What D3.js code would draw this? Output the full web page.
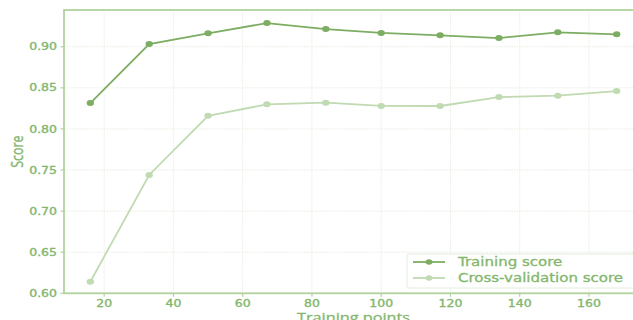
<!DOCTYPE html>
<html>
<head>
<meta charset="utf-8">
<script src="https://cdn.jsdelivr.net/npm/d3@7"></script>
<style>
  html, body { margin: 0; padding: 0; background: #ffffff; }
  svg { display: block; }
</style>
</head>
<body>
<svg id="chart" width="633" height="320"></svg>
<script>
const trainSizes = [16, 33, 50, 67, 84, 100, 117, 134, 151, 168];
const trainingScore = [0.8315, 0.9033, 0.9163, 0.9288, 0.9215, 0.9168, 0.9139, 0.9106, 0.9175, 0.9151];
const cvScore = [0.6141, 0.7440, 0.8160, 0.8299, 0.8319, 0.8280, 0.8279, 0.8388, 0.8404, 0.8461];
const xTicks = [20, 40, 60, 80, 100, 120, 140, 160];
const yTicks = [0.60, 0.65, 0.70, 0.75, 0.80, 0.85, 0.90];
const seriesNames = ["Training score", "Cross-validation score"];

const trainColor = "#7dad62";
const cvColor = "#c0dab2";
const spineColor = "#b0d39d";
const textColor = "#84b76d";
const gridColor = "#e8efe2";
const SX = 1.25;

const svg = d3.select("#chart");
const pLeft = 64, pRight = 643, pTop = 10, pBottom = 293.3;

const x = d3.scaleLinear().domain([8.4, 175.6]).range([pLeft, pRight]);
const y = d3.scaleLinear().domain([0.60, 0.9447]).range([pBottom, pTop]);

// grid
const g = svg.append("g");
g.selectAll("line.gx").data(xTicks).join("line")
  .attr("x1", d => x(d)).attr("x2", d => x(d))
  .attr("y1", pTop).attr("y2", pBottom)
  .attr("stroke", gridColor).attr("stroke-width", 1).attr("stroke-dasharray", "1.5,1");
g.selectAll("line.gy").data(yTicks).join("line")
  .attr("y1", d => y(d)).attr("y2", d => y(d))
  .attr("x1", pLeft).attr("x2", pRight)
  .attr("stroke", gridColor).attr("stroke-width", 1).attr("stroke-dasharray", "1.5,1");

// spines
svg.append("rect").attr("x", pLeft).attr("y", pTop)
  .attr("width", pRight - pLeft).attr("height", pBottom - pTop)
  .attr("fill", "none").attr("stroke", spineColor).attr("stroke-width", 1.8);

// ticks
svg.selectAll("line.tx").data(xTicks).join("line")
  .attr("x1", d => x(d)).attr("x2", d => x(d))
  .attr("y1", pBottom).attr("y2", pBottom + 3.5)
  .attr("stroke", spineColor).attr("stroke-width", 1.2);
svg.selectAll("line.ty").data(yTicks).join("line")
  .attr("y1", d => y(d)).attr("y2", d => y(d))
  .attr("x1", pLeft - 3.5).attr("x2", pLeft)
  .attr("stroke", spineColor).attr("stroke-width", 1.2);

// tick labels
svg.selectAll("text.xt").data(xTicks).join("text")
  .attr("transform", d => `translate(${x(d)},306.5) scale(${SX},1)`)
  .attr("text-anchor", "middle")
  .attr("font-family", "DejaVu Sans").attr("font-size", 10)
  .attr("fill", textColor).attr("stroke", textColor).attr("stroke-width", 0.35)
  .text(d => d);
svg.selectAll("text.yt").data(yTicks).join("text")
  .attr("transform", d => `translate(57,${y(d) + 3.6}) scale(${SX},1)`)
  .attr("text-anchor", "end")
  .attr("font-family", "DejaVu Sans").attr("font-size", 10)
  .attr("fill", textColor).attr("stroke", textColor).attr("stroke-width", 0.35)
  .text(d => d.toFixed(2));

// axis labels
svg.append("text")
  .attr("transform", `translate(${(pLeft + pRight) / 2},321.5) scale(${SX},1)`)
  .attr("text-anchor", "middle")
  .attr("font-family", "Open Sans").attr("font-size", 13)
  .attr("fill", textColor).attr("stroke", textColor).attr("stroke-width", 0.3)
  .text("Training points");
svg.append("text")
  .attr("transform", `translate(23,${(pTop + pBottom) / 2}) rotate(-90) scale(1,${SX})`)
  .attr("text-anchor", "middle")
  .attr("font-family", "Open Sans").attr("font-size", 12.5)
  .attr("fill", textColor).attr("stroke", textColor).attr("stroke-width", 0.3)
  .text("Score");

// lines
const line = d3.line().x((d, i) => x(trainSizes[i])).y(d => y(d));
const series = [
  { name: seriesNames[0], values: trainingScore, color: trainColor },
  { name: seriesNames[1], values: cvScore, color: cvColor }
];
[series[1], series[0]].forEach(s => {
  svg.append("path").datum(s.values)
    .attr("d", line).attr("fill", "none")
    .attr("stroke", s.color).attr("stroke-width", 1.8);
  svg.append("g").selectAll("ellipse").data(s.values).join("ellipse")
    .attr("cx", (d, i) => x(trainSizes[i])).attr("cy", d => y(d))
    .attr("rx", 3.7).attr("ry", 3.0)
    .attr("fill", s.color);
});

// legend
const lg = svg.append("g");
lg.append("rect").attr("x", 407).attr("y", 254).attr("width", 229).attr("height", 34)
  .attr("rx", 2).attr("fill", "#ffffff").attr("fill-opacity", 0.85)
  .attr("stroke", "#e3ecdc").attr("stroke-width", 1);
series.forEach((s, i) => {
  const cy = 262 + i * 16;
  lg.append("line").attr("x1", 413).attr("x2", 445).attr("y1", cy).attr("y2", cy)
    .attr("stroke", s.color).attr("stroke-width", 1.8);
  lg.append("ellipse").attr("cx", 429).attr("cy", cy).attr("rx", 3.4).attr("ry", 2.8)
    .attr("fill", s.color);
  lg.append("text")
    .attr("transform", `translate(458,${cy + 4.3}) scale(${SX},1)`)
    .attr("font-family", "DejaVu Sans").attr("font-size", 12)
    .attr("fill", textColor).attr("stroke", textColor).attr("stroke-width", 0.3)
    .text(s.name);
});
</script>
</body>
</html>
